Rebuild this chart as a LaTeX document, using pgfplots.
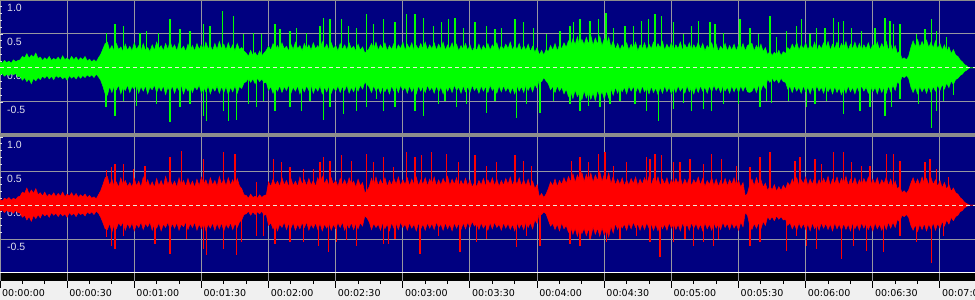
\documentclass[border=0pt]{standalone}
\usepackage{pgfplots}
\pgfplotsset{compat=1.18}
\usepackage{pgfplotstable}
\usepackage{fontspec}
\setmainfont{DejaVu Sans}
\newfontfamily\labfont{Liberation Sans}
\definecolor{navy}{RGB}{0,0,128}
\definecolor{gridc}{RGB}{150,150,160}
\definecolor{sepc}{RGB}{140,140,140}
\definecolor{lightbg}{RGB}{240,240,240}
\definecolor{lab}{RGB}{225,225,235}
\definecolor{wgreen}{RGB}{0,255,0}
\definecolor{wred}{RGB}{255,0,0}
\definecolor{dashc}{RGB}{235,235,215}

% body envelope: time (s), green upper/lower, red upper/lower
\pgfplotstableread{
t gu gl ru rl
0 0.09 -0.10 0.08 -0.09
1 0.07 -0.08 0.06 -0.07
2 0.11 -0.12 0.10 -0.11
3 0.08 -0.09 0.08 -0.08
4 0.10 -0.11 0.11 -0.10
5 0.07 -0.08 0.07 -0.09
6 0.12 -0.10 0.10 -0.12
7 0.09 -0.08 0.08 -0.08
8 0.11 -0.13 0.12 -0.11
9 0.12 -0.12 0.13 -0.12
10 0.17 -0.18 0.19 -0.18
11 0.15 -0.14 0.17 -0.15
12 0.21 -0.20 0.25 -0.22
13 0.14 -0.16 0.16 -0.17
14 0.19 -0.23 0.22 -0.24
15 0.16 -0.15 0.17 -0.15
16 0.22 -0.19 0.24 -0.20
17 0.14 -0.14 0.15 -0.14
18 0.16 -0.17 0.18 -0.19
19 0.11 -0.12 0.13 -0.12
20 0.15 -0.15 0.19 -0.16
21 0.12 -0.11 0.12 -0.13
22 0.17 -0.16 0.16 -0.18
23 0.11 -0.12 0.13 -0.11
24 0.14 -0.17 0.18 -0.15
25 0.12 -0.11 0.12 -0.12
26 0.16 -0.14 0.17 -0.17
27 0.11 -0.12 0.13 -0.12
28 0.18 -0.16 0.19 -0.16
29 0.12 -0.13 0.12 -0.13
30 0.15 -0.18 0.16 -0.18
31 0.11 -0.11 0.13 -0.11
32 0.17 -0.15 0.18 -0.15
33 0.12 -0.12 0.12 -0.12
34 0.16 -0.16 0.17 -0.17
35 0.11 -0.11 0.11 -0.11
36 0.15 -0.15 0.15 -0.14
37 0.12 -0.11 0.12 -0.12
38 0.17 -0.14 0.16 -0.16
39 0.10 -0.10 0.11 -0.10
40 0.13 -0.13 0.14 -0.13
41 0.09 -0.10 0.10 -0.10
42 0.12 -0.14 0.12 -0.14
43 0.09 -0.09 0.09 -0.09
44 0.15 -0.13 0.15 -0.12
45 0.20 -0.18 0.21 -0.18
46 0.28 -0.27 0.30 -0.26
47 0.36 -0.38 0.40 -0.35
48 0.38 -0.40 0.42 -0.36
49 0.26 -0.27 0.28 -0.27
50 0.33 -0.36 0.38 -0.40
51 0.25 -0.26 0.27 -0.28
52 0.36 -0.32 0.34 -0.35
53 0.27 -0.25 0.26 -0.26
54 0.31 -0.38 0.40 -0.31
55 0.24 -0.28 0.29 -0.25
56 0.35 -0.33 0.36 -0.37
57 0.26 -0.25 0.27 -0.27
58 0.32 -0.36 0.33 -0.34
59 0.25 -0.27 0.26 -0.26
60 0.37 -0.31 0.39 -0.38
61 0.27 -0.24 0.28 -0.28
62 0.33 -0.37 0.35 -0.33
63 0.25 -0.27 0.26 -0.25
64 0.36 -0.34 0.41 -0.36
65 0.26 -0.26 0.29 -0.27
66 0.30 -0.38 0.37 -0.32
67 0.24 -0.28 0.27 -0.25
68 0.34 -0.32 0.34 -0.37
69 0.26 -0.25 0.26 -0.27
70 0.38 -0.36 0.39 -0.34
71 0.28 -0.27 0.28 -0.26
72 0.33 -0.34 0.36 -0.38
73 0.25 -0.26 0.27 -0.28
74 0.36 -0.39 0.42 -0.33
75 0.27 -0.28 0.30 -0.25
76 0.40 -0.35 0.38 -0.36
77 0.28 -0.26 0.28 -0.27
78 0.34 -0.37 0.35 -0.34
79 0.25 -0.27 0.26 -0.26
80 0.37 -0.33 0.40 -0.37
81 0.27 -0.25 0.29 -0.28
82 0.32 -0.38 0.36 -0.32
83 0.24 -0.28 0.27 -0.25
84 0.35 -0.34 0.39 -0.36
85 0.26 -0.26 0.28 -0.27
86 0.33 -0.36 0.35 -0.33
87 0.25 -0.27 0.26 -0.25
88 0.36 -0.32 0.38 -0.37
89 0.27 -0.25 0.28 -0.28
90 0.34 -0.37 0.41 -0.35
91 0.25 -0.28 0.30 -0.26
92 0.38 -0.35 0.37 -0.38
93 0.28 -0.26 0.27 -0.28
94 0.33 -0.38 0.40 -0.34
95 0.25 -0.28 0.29 -0.26
96 0.36 -0.34 0.36 -0.37
97 0.27 -0.26 0.27 -0.27
98 0.39 -0.37 0.42 -0.35
99 0.28 -0.27 0.30 -0.26
100 0.35 -0.36 0.38 -0.38
101 0.26 -0.27 0.28 -0.28
102 0.37 -0.39 0.40 -0.34
103 0.27 -0.28 0.29 -0.26
104 0.34 -0.35 0.37 -0.36
105 0.25 -0.26 0.27 -0.27
106 0.36 -0.37 0.39 -0.33
107 0.27 -0.27 0.28 -0.25
108 0.30 -0.30 0.24 -0.22
109 0.25 -0.22 0.15 -0.14
110 0.22 -0.20 0.14 -0.13
111 0.17 -0.15 0.10 -0.09
112 0.26 -0.21 0.16 -0.15
113 0.18 -0.16 0.11 -0.10
114 0.23 -0.23 0.13 -0.14
115 0.17 -0.15 0.10 -0.10
116 0.25 -0.20 0.15 -0.13
117 0.18 -0.16 0.11 -0.09
118 0.22 -0.22 0.14 -0.15
119 0.26 -0.21 0.15 -0.14
120 0.32 -0.33 0.34 -0.30
121 0.26 -0.27 0.27 -0.26
122 0.36 -0.37 0.38 -0.35
123 0.27 -0.28 0.29 -0.27
124 0.33 -0.34 0.35 -0.38
125 0.25 -0.26 0.27 -0.28
126 0.37 -0.36 0.40 -0.33
127 0.28 -0.27 0.29 -0.25
128 0.32 -0.33 0.36 -0.36
129 0.25 -0.25 0.27 -0.27
130 0.35 -0.37 0.39 -0.34
131 0.27 -0.28 0.28 -0.26
132 0.38 -0.34 0.35 -0.37
133 0.28 -0.26 0.27 -0.28
134 0.33 -0.38 0.41 -0.35
135 0.25 -0.28 0.30 -0.26
136 0.36 -0.35 0.37 -0.33
137 0.27 -0.26 0.28 -0.25
138 0.34 -0.33 0.39 -0.37
139 0.26 -0.25 0.29 -0.28
140 0.37 -0.37 0.36 -0.34
141 0.28 -0.28 0.27 -0.26
142 0.33 -0.34 0.40 -0.36
143 0.25 -0.26 0.30 -0.27
144 0.39 -0.38 0.42 -0.38
145 0.28 -0.28 0.31 -0.28
146 0.35 -0.35 0.38 -0.34
147 0.26 -0.26 0.28 -0.26
148 0.37 -0.37 0.40 -0.37
149 0.28 -0.28 0.30 -0.28
150 0.33 -0.34 0.36 -0.35
151 0.25 -0.26 0.27 -0.26
152 0.36 -0.36 0.39 -0.33
153 0.27 -0.27 0.29 -0.25
154 0.34 -0.33 0.37 -0.37
155 0.26 -0.25 0.28 -0.28
156 0.37 -0.37 0.40 -0.34
157 0.28 -0.28 0.30 -0.26
158 0.32 -0.35 0.35 -0.36
159 0.25 -0.26 0.26 -0.27
160 0.35 -0.34 0.38 -0.35
161 0.26 -0.25 0.28 -0.26
162 0.31 -0.31 0.33 -0.31
163 0.22 -0.21 0.18 -0.16
164 0.25 -0.24 0.21 -0.19
165 0.29 -0.28 0.27 -0.25
166 0.36 -0.36 0.39 -0.36
167 0.28 -0.26 0.29 -0.27
168 0.38 -0.34 0.41 -0.33
169 0.26 -0.28 0.28 -0.28
170 0.34 -0.37 0.37 -0.37
171 0.28 -0.27 0.30 -0.26
172 0.37 -0.35 0.40 -0.35
173 0.25 -0.28 0.27 -0.28
174 0.33 -0.38 0.36 -0.38
175 0.27 -0.26 0.29 -0.26
176 0.36 -0.34 0.39 -0.34
177 0.26 -0.27 0.30 -0.27
178 0.34 -0.36 0.41 -0.36
179 0.28 -0.25 0.28 -0.25
180 0.38 -0.33 0.37 -0.33
181 0.26 -0.28 0.30 -0.28
182 0.35 -0.37 0.40 -0.37
183 0.28 -0.26 0.28 -0.26
184 0.37 -0.35 0.38 -0.34
185 0.25 -0.28 0.30 -0.28
186 0.33 -0.38 0.41 -0.38
187 0.27 -0.26 0.28 -0.26
188 0.36 -0.34 0.37 -0.35
189 0.28 -0.27 0.30 -0.28
190 0.38 -0.36 0.40 -0.37
191 0.26 -0.25 0.28 -0.26
192 0.34 -0.33 0.38 -0.34
193 0.28 -0.28 0.30 -0.27
194 0.37 -0.37 0.41 -0.36
195 0.26 -0.26 0.28 -0.25
196 0.35 -0.35 0.37 -0.33
197 0.28 -0.28 0.29 -0.28
198 0.38 -0.38 0.39 -0.37
199 0.26 -0.26 0.31 -0.26
200 0.34 -0.34 0.42 -0.35
201 0.28 -0.27 0.28 -0.28
202 0.37 -0.36 0.38 -0.38
203 0.26 -0.25 0.30 -0.26
204 0.35 -0.33 0.40 -0.34
205 0.25 -0.28 0.27 -0.27
206 0.33 -0.37 0.36 -0.36
207 0.27 -0.26 0.29 -0.26
208 0.36 -0.35 0.39 -0.35
209 0.26 -0.27 0.28 -0.25
210 0.34 -0.36 0.37 -0.33
211 0.24 -0.25 0.26 -0.24
212 0.31 -0.33 0.33 -0.31
213 0.26 -0.28 0.27 -0.27
214 0.35 -0.37 0.36 -0.36
215 0.25 -0.26 0.29 -0.26
216 0.33 -0.34 0.39 -0.34
217 0.27 -0.27 0.28 -0.28
218 0.36 -0.36 0.37 -0.37
219 0.26 -0.25 0.30 -0.26
220 0.34 -0.33 0.40 -0.35
221 0.28 -0.28 0.28 -0.25
222 0.37 -0.37 0.38 -0.33
223 0.25 -0.26 0.27 -0.28
224 0.33 -0.35 0.36 -0.37
225 0.27 -0.26 0.29 -0.26
226 0.35 -0.34 0.39 -0.34
227 0.28 -0.28 0.30 -0.27
228 0.38 -0.37 0.41 -0.36
229 0.26 -0.28 0.28 -0.28
230 0.34 -0.38 0.38 -0.38
231 0.27 -0.26 0.30 -0.26
232 0.36 -0.34 0.40 -0.34
233 0.25 -0.27 0.28 -0.27
234 0.33 -0.36 0.37 -0.36
235 0.26 -0.25 0.28 -0.25
236 0.35 -0.33 0.38 -0.33
237 0.24 -0.26 0.26 -0.26
238 0.32 -0.35 0.35 -0.35
239 0.23 -0.24 0.24 -0.22
240 0.30 -0.30 0.30 -0.27
241 0.19 -0.15 0.12 -0.10
242 0.26 -0.20 0.17 -0.14
243 0.19 -0.14 0.11 -0.10
244 0.27 -0.19 0.16 -0.13
245 0.24 -0.23 0.24 -0.22
246 0.33 -0.32 0.34 -0.31
247 0.26 -0.27 0.28 -0.27
248 0.36 -0.36 0.38 -0.36
249 0.25 -0.26 0.27 -0.28
250 0.34 -0.34 0.36 -0.38
251 0.28 -0.28 0.30 -0.26
252 0.37 -0.38 0.40 -0.35
253 0.30 -0.31 0.31 -0.30
254 0.40 -0.42 0.42 -0.40
255 0.32 -0.34 0.34 -0.32
256 0.43 -0.45 0.46 -0.43
257 0.34 -0.32 0.33 -0.34
258 0.46 -0.42 0.44 -0.46
259 0.31 -0.35 0.36 -0.32
260 0.42 -0.47 0.48 -0.42
261 0.34 -0.33 0.34 -0.34
262 0.45 -0.44 0.45 -0.45
263 0.35 -0.34 0.35 -0.35
264 0.48 -0.46 0.47 -0.47
265 0.33 -0.36 0.33 -0.32
266 0.44 -0.48 0.44 -0.43
267 0.35 -0.32 0.36 -0.34
268 0.47 -0.43 0.49 -0.46
269 0.32 -0.34 0.34 -0.33
270 0.43 -0.46 0.45 -0.44
271 0.34 -0.33 0.35 -0.35
272 0.45 -0.44 0.47 -0.47
273 0.30 -0.30 0.31 -0.31
274 0.40 -0.40 0.42 -0.41
275 0.27 -0.28 0.29 -0.27
276 0.36 -0.37 0.38 -0.36
277 0.26 -0.26 0.30 -0.26
278 0.34 -0.35 0.40 -0.34
279 0.28 -0.28 0.28 -0.28
280 0.37 -0.38 0.37 -0.37
281 0.26 -0.26 0.29 -0.26
282 0.35 -0.34 0.39 -0.35
283 0.28 -0.27 0.31 -0.25
284 0.38 -0.36 0.41 -0.33
285 0.25 -0.28 0.28 -0.28
286 0.34 -0.37 0.38 -0.37
287 0.28 -0.26 0.30 -0.27
288 0.37 -0.35 0.40 -0.36
289 0.26 -0.28 0.31 -0.26
290 0.35 -0.38 0.42 -0.34
291 0.28 -0.27 0.29 -0.28
292 0.38 -0.36 0.39 -0.37
293 0.27 -0.29 0.31 -0.28
294 0.36 -0.39 0.41 -0.38
295 0.29 -0.28 0.28 -0.26
296 0.39 -0.37 0.38 -0.35
297 0.26 -0.26 0.30 -0.28
298 0.35 -0.35 0.40 -0.37
299 0.28 -0.28 0.28 -0.26
300 0.37 -0.38 0.37 -0.34
301 0.25 -0.27 0.29 -0.27
302 0.34 -0.36 0.39 -0.36
303 0.28 -0.26 0.31 -0.28
304 0.38 -0.34 0.41 -0.38
305 0.26 -0.28 0.28 -0.26
306 0.35 -0.37 0.38 -0.35
307 0.28 -0.26 0.30 -0.28
308 0.37 -0.35 0.40 -0.37
309 0.25 -0.28 0.28 -0.26
310 0.34 -0.38 0.37 -0.34
311 0.28 -0.27 0.31 -0.27
312 0.38 -0.36 0.41 -0.36
313 0.27 -0.26 0.29 -0.28
314 0.36 -0.34 0.39 -0.38
315 0.25 -0.28 0.27 -0.26
316 0.33 -0.37 0.36 -0.35
317 0.28 -0.26 0.30 -0.28
318 0.37 -0.35 0.40 -0.37
319 0.26 -0.25 0.28 -0.26
320 0.35 -0.33 0.38 -0.34
321 0.24 -0.27 0.27 -0.27
322 0.32 -0.36 0.36 -0.36
323 0.27 -0.26 0.29 -0.25
324 0.36 -0.34 0.39 -0.33
325 0.25 -0.28 0.28 -0.27
326 0.33 -0.37 0.37 -0.36
327 0.26 -0.26 0.30 -0.26
328 0.35 -0.35 0.40 -0.34
329 0.25 -0.27 0.27 -0.28
330 0.34 -0.36 0.36 -0.37
331 0.27 -0.26 0.26 -0.25
332 0.36 -0.34 0.33 -0.32
333 0.25 -0.26 0.13 -0.11
334 0.33 -0.35 0.17 -0.15
335 0.35 -0.36 0.30 -0.30
336 0.36 -0.34 0.38 -0.36
337 0.25 -0.27 0.28 -0.27
338 0.33 -0.36 0.40 -0.34
339 0.26 -0.25 0.30 -0.26
340 0.35 -0.33 0.37 -0.35
341 0.24 -0.24 0.26 -0.24
342 0.30 -0.30 0.32 -0.30
343 0.19 -0.16 0.21 -0.17
344 0.25 -0.21 0.28 -0.22
345 0.18 -0.15 0.22 -0.17
346 0.23 -0.20 0.30 -0.23
347 0.19 -0.16 0.20 -0.16
348 0.26 -0.22 0.27 -0.21
349 0.18 -0.15 0.21 -0.17
350 0.24 -0.20 0.29 -0.22
351 0.21 -0.21 0.23 -0.21
352 0.30 -0.31 0.33 -0.30
353 0.26 -0.27 0.28 -0.26
354 0.35 -0.36 0.38 -0.35
355 0.28 -0.26 0.30 -0.28
356 0.38 -0.34 0.40 -0.37
357 0.26 -0.28 0.28 -0.26
358 0.34 -0.37 0.37 -0.34
359 0.28 -0.26 0.31 -0.27
360 0.37 -0.35 0.41 -0.36
361 0.26 -0.28 0.28 -0.28
362 0.35 -0.38 0.38 -0.38
363 0.28 -0.27 0.30 -0.26
364 0.38 -0.36 0.40 -0.35
365 0.25 -0.26 0.28 -0.28
366 0.34 -0.34 0.37 -0.37
367 0.28 -0.28 0.29 -0.26
368 0.37 -0.37 0.39 -0.34
369 0.29 -0.26 0.31 -0.27
370 0.39 -0.35 0.42 -0.36
371 0.26 -0.28 0.28 -0.28
372 0.35 -0.38 0.38 -0.38
373 0.28 -0.27 0.31 -0.26
374 0.38 -0.36 0.41 -0.35
375 0.27 -0.29 0.29 -0.28
376 0.36 -0.39 0.39 -0.37
377 0.29 -0.28 0.31 -0.27
378 0.39 -0.37 0.42 -0.36
379 0.26 -0.26 0.28 -0.28
380 0.35 -0.35 0.38 -0.38
381 0.28 -0.28 0.30 -0.26
382 0.38 -0.38 0.40 -0.35
383 0.27 -0.27 0.28 -0.28
384 0.36 -0.36 0.37 -0.37
385 0.25 -0.26 0.29 -0.26
386 0.34 -0.34 0.39 -0.34
387 0.28 -0.28 0.31 -0.27
388 0.37 -0.37 0.41 -0.36
389 0.26 -0.26 0.28 -0.28
390 0.35 -0.35 0.38 -0.38
391 0.28 -0.28 0.30 -0.26
392 0.38 -0.38 0.40 -0.35
393 0.27 -0.27 0.28 -0.28
394 0.36 -0.36 0.37 -0.37
395 0.29 -0.28 0.31 -0.27
396 0.39 -0.37 0.41 -0.36
397 0.26 -0.26 0.28 -0.25
398 0.35 -0.35 0.38 -0.34
399 0.25 -0.25 0.26 -0.25
400 0.33 -0.33 0.35 -0.33
401 0.21 -0.20 0.23 -0.21
402 0.25 -0.24 0.28 -0.25
403 0.13 -0.12 0.18 -0.15
404 0.15 -0.14 0.21 -0.17
405 0.12 -0.11 0.17 -0.14
406 0.17 -0.15 0.22 -0.18
407 0.30 -0.28 0.32 -0.30
408 0.40 -0.36 0.40 -0.37
409 0.31 -0.28 0.30 -0.29
410 0.42 -0.38 0.38 -0.39
411 0.30 -0.27 0.29 -0.28
412 0.39 -0.35 0.41 -0.36
413 0.31 -0.28 0.31 -0.27
414 0.41 -0.37 0.39 -0.38
415 0.30 -0.27 0.29 -0.28
416 0.38 -0.36 0.40 -0.35
417 0.29 -0.27 0.30 -0.26
418 0.40 -0.34 0.37 -0.37
419 0.28 -0.25 0.27 -0.27
420 0.36 -0.33 0.36 -0.34
421 0.26 -0.24 0.25 -0.24
422 0.34 -0.31 0.33 -0.31
423 0.24 -0.22 0.23 -0.22
424 0.31 -0.29 0.30 -0.28
425 0.21 -0.19 0.20 -0.18
426 0.27 -0.24 0.25 -0.23
427 0.19 -0.17 0.18 -0.17
428 0.17 -0.15 0.16 -0.15
429 0.12 -0.11 0.11 -0.10
430 0.09 -0.09 0.08 -0.08
431 0.05 -0.05 0.04 -0.04
432 0.03 -0.03 0.02 -0.02
433 0.00 0.00 0.00 0.00
435.66 0.00 0.00 0.00 0.00
}\env

% isolated peaks, green channel
\pgfplotstableread{
t v
47.7 0.52
51.4 0.64
55.1 0.62
62.6 0.52
65.5 0.54
70.7 0.52
76.0 0.72
80.4 0.57
84.9 0.54
90.9 0.64
93.8 0.62
99.5 0.84
104.3 0.76
108.7 0.50
113.2 0.52
116.9 0.50
122.9 0.64
125.1 0.57
129.6 0.54
132.6 0.59
137.0 0.52
143.0 0.62
144.5 0.74
147.5 0.72
152.7 0.72
155.6 0.62
159.4 0.59
163.8 0.79
166.8 0.64
171.3 0.72
176.5 0.67
181.7 0.79
185.4 0.79
189.1 0.74
193.6 0.62
197.4 0.67
200.3 0.72
203.3 0.74
207.0 0.59
212.2 0.67
217.5 0.62
221.2 0.57
224.2 0.59
230.1 0.72
233.8 0.67
238.3 0.59
244.3 0.50
250.2 0.54
254.7 0.62
256.2 0.67
259.2 0.72
263.6 0.69
267.3 0.72
270.8 0.81
274.0 0.59
279.3 0.62
283.0 0.62
286.7 0.69
289.7 0.72
292.7 0.79
295.7 0.76
300.9 0.67
305.3 0.50
309.1 0.62
312.0 0.69
317.2 0.67
319.5 0.64
323.2 0.52
330.7 0.72
335.1 0.59
338.8 0.50
344.1 0.76
347.0 0.45
351.5 0.54
356.0 0.62
358.2 0.72
361.9 0.50
364.9 0.59
368.6 0.59
372.3 0.74
374.6 0.67
376.8 0.69
380.6 0.59
385.0 0.54
391.0 0.59
395.4 0.74
397.7 0.69
399.2 0.64
402.1 0.64
409.6 0.50
413.3 0.57
416.3 0.72
418.5 0.54
423.0 0.45
47.4 -0.58
51.4 -0.71
55.1 -0.49
61.1 -0.56
70.0 -0.53
76.0 -0.80
80.4 -0.58
84.9 -0.53
90.9 -0.71
92.4 -0.78
99.8 -0.63
102.0 -0.78
105.8 -0.76
111.0 -0.53
114.7 -0.58
117.7 -0.49
122.9 -0.63
129.6 -0.58
134.8 -0.63
138.5 -0.49
144.5 -0.76
147.5 -0.58
153.4 -0.68
159.4 -0.63
163.8 -0.58
168.3 -0.46
171.3 -0.63
176.5 -0.58
185.4 -0.63
189.1 -0.71
195.9 -0.53
198.8 -0.49
204.1 -0.58
208.5 -0.53
217.5 -0.66
221.2 -0.49
230.9 -0.73
235.3 -0.53
241.3 -0.66
247.2 -0.49
254.7 -0.53
259.2 -0.63
262.9 -0.56
268.1 -0.58
272.6 -0.53
277.0 -0.49
283.7 -0.53
289.0 -0.63
294.2 -0.78
300.9 -0.61
305.3 -0.51
309.1 -0.63
314.3 -0.61
318.0 -0.63
323.2 -0.53
329.9 -0.53
339.6 -0.58
342.6 -0.49
344.8 -0.51
352.2 -0.49
360.4 -0.58
364.2 -0.53
369.4 -0.49
376.8 -0.68
384.3 -0.63
388.7 -0.58
395.4 -0.71
398.4 -0.58
402.1 -0.46
410.3 -0.53
416.3 -0.88
418.5 -0.63
421.5 -0.49
426.0 -0.39
}\gspk

% isolated peaks, red channel
\pgfplotstableread{
t v
47.7 0.52
49.9 0.56
51.4 0.61
55.1 0.61
59.6 0.53
64.8 0.58
76.0 0.70
81.2 0.80
90.9 0.68
99.8 0.78
105.0 0.75
114.7 0.34
122.1 0.68
125.9 0.63
129.6 0.56
135.5 0.53
140.0 0.53
143.0 0.63
144.5 0.70
147.5 0.65
152.7 0.73
157.1 0.65
163.8 0.75
166.8 0.63
171.3 0.70
175.8 0.56
181.7 0.78
185.4 0.70
188.4 0.73
192.9 0.78
199.6 0.75
204.8 0.63
212.2 0.73
217.5 0.58
221.9 0.63
230.1 0.73
233.8 0.65
237.6 0.58
255.4 0.65
259.2 0.70
262.9 0.63
267.3 0.75
270.3 0.78
274.0 0.58
280.0 0.63
289.0 0.70
290.4 0.68
292.7 0.75
295.7 0.73
300.9 0.63
303.8 0.63
308.3 0.68
314.3 0.61
318.0 0.75
322.5 0.68
329.2 0.58
335.1 0.56
339.6 0.70
344.1 0.78
355.2 0.65
357.5 0.70
364.2 0.68
367.2 0.61
372.3 0.78
376.8 0.78
380.6 0.63
385.0 0.58
388.7 0.58
396.2 0.75
399.2 0.75
402.1 0.65
413.3 0.63
415.5 0.68
418.5 0.53
423.7 0.41
47.7 -0.47
49.9 -0.60
51.4 -0.64
55.1 -0.45
69.3 -0.57
76.0 -0.72
83.4 -0.50
90.9 -0.64
92.4 -0.74
99.8 -0.64
105.8 -0.74
108.0 -0.55
114.7 -0.45
117.7 -0.45
122.9 -0.57
129.6 -0.55
135.5 -0.55
142.2 -0.61
146.7 -0.69
150.4 -0.55
154.9 -0.52
159.4 -0.60
171.3 -0.57
173.5 -0.57
176.5 -0.50
187.7 -0.72
195.9 -0.45
205.5 -0.69
213.0 -0.55
217.5 -0.50
230.9 -0.62
235.3 -0.45
241.3 -0.60
254.7 -0.57
259.2 -0.60
263.6 -0.50
271.1 -0.55
277.0 -0.50
284.5 -0.45
290.4 -0.55
294.9 -0.77
300.9 -0.55
306.1 -0.50
309.8 -0.60
314.3 -0.55
318.7 -0.60
321.0 -0.50
335.1 -0.60
339.6 -0.55
351.5 -0.67
356.0 -0.45
360.4 -0.60
364.9 -0.64
376.1 -0.79
381.3 -0.60
387.3 -0.67
394.7 -0.69
402.1 -0.45
409.6 -0.55
416.3 -0.86
421.5 -0.45
}\rspk

\pgfplotsset{
  wave/.style={
    scale only axis, width=975bp, xmin=0, xmax=435.66,
    enlargelimits=false,
    axis background/.style={fill=navy},
    axis line style={draw=none},
    xtick={0,30,...,420}, xticklabels={},
    xmajorgrids, grid style={gridc, line width=1bp},
    major x tick style={draw=none},
    ytick={-0.5,0,0.5,1}, yticklabels={-0.5,0.0,0.5,1.0},
    minor y tick num=4,
    ytick pos=left, tick align=inside,
    major tick length=3bp, minor tick length=2bp,
    y tick style={lab, line width=0.8bp},
    yticklabel style={anchor=north west, inner sep=0pt, xshift=7bp, yshift=-3.5bp,
      text=lab, font=\labfont\fontsize{10.5bp}{12bp}\selectfont},
    extra y ticks={-0.5,0.5}, extra y tick labels={},
    extra y tick style={ymajorgrids=true, major tick length=0pt},
  }
}

\begin{document}
\begin{tikzpicture}
\useasboundingbox (0,0) rectangle (975bp,300bp);
\clip (0,0) rectangle (975bp,300bp);
\fill[lightbg] (0,0) rectangle (975bp,300bp);

% top channel
\begin{axis}[wave, at={(0bp,167bp)}, anchor=south west, height=133bp, ymin=-0.956, ymax=1.0]
\addplot[draw=wgreen, fill=wgreen, line width=0.5bp] table[x=t,y=gu]{\env} \closedcycle;
\addplot[draw=wgreen, fill=wgreen, line width=0.5bp] table[x=t,y=gl]{\env} \closedcycle;
\addplot[ycomb, draw=wgreen, line width=1.3bp, mark=none] table[x=t,y=v]{\gspk};
\addplot[dashc, dash pattern=on 4bp off 3bp, line width=1bp, mark=none] coordinates {(0,0) (435.66,0)};
\end{axis}

% bottom channel
\begin{axis}[wave, at={(0bp,28bp)}, anchor=south west, height=135bp, ymin=-0.985, ymax=1.0]
\addplot[draw=wred, fill=wred, line width=0.5bp] table[x=t,y=ru]{\env} \closedcycle;
\addplot[draw=wred, fill=wred, line width=0.5bp] table[x=t,y=rl]{\env} \closedcycle;
\addplot[ycomb, draw=wred, line width=1.3bp, mark=none] table[x=t,y=v]{\rspk};
\addplot[dashc, dash pattern=on 4bp off 3bp, line width=1bp, mark=none] coordinates {(0,0) (435.66,0)};
\end{axis}

% time ruler
\begin{axis}[scale only axis, width=975bp, height=8bp, at={(0bp,19bp)}, anchor=south west,
  xmin=0, xmax=435.66, ymin=0, ymax=1, enlargelimits=false,
  axis background/.style={fill=black},
  axis line style={draw=none},
  ytick=\empty,
  xtick={0,30,...,420},
  xticklabels={00:00:00,00:00:30,00:01:00,00:01:30,00:02:00,00:02:30,00:03:00,00:03:30,00:04:00,00:04:30,00:05:00,00:05:30,00:06:00,00:06:30,00:07:00},
  minor x tick num=2,
  xmajorgrids, grid style={gridc, line width=1bp},
  xtick pos=lower, xticklabel pos=lower, tick align=outside,
  major tick length=6.5bp, minor tick length=3bp,
  x tick style={black, line width=1bp},
  xticklabel style={anchor=west, inner sep=0pt, xshift=2bp, yshift=-5.2bp,
    text=black, font=\fontsize{9.5bp}{11bp}\selectfont},
]
\end{axis}

\fill[sepc] (0,163bp) rectangle (975bp,167bp);
\fill[sepc] (0,299bp) rectangle (975bp,300bp);
\fill[white] (0,27bp) rectangle (975bp,28bp);
\end{tikzpicture}
\end{document}
